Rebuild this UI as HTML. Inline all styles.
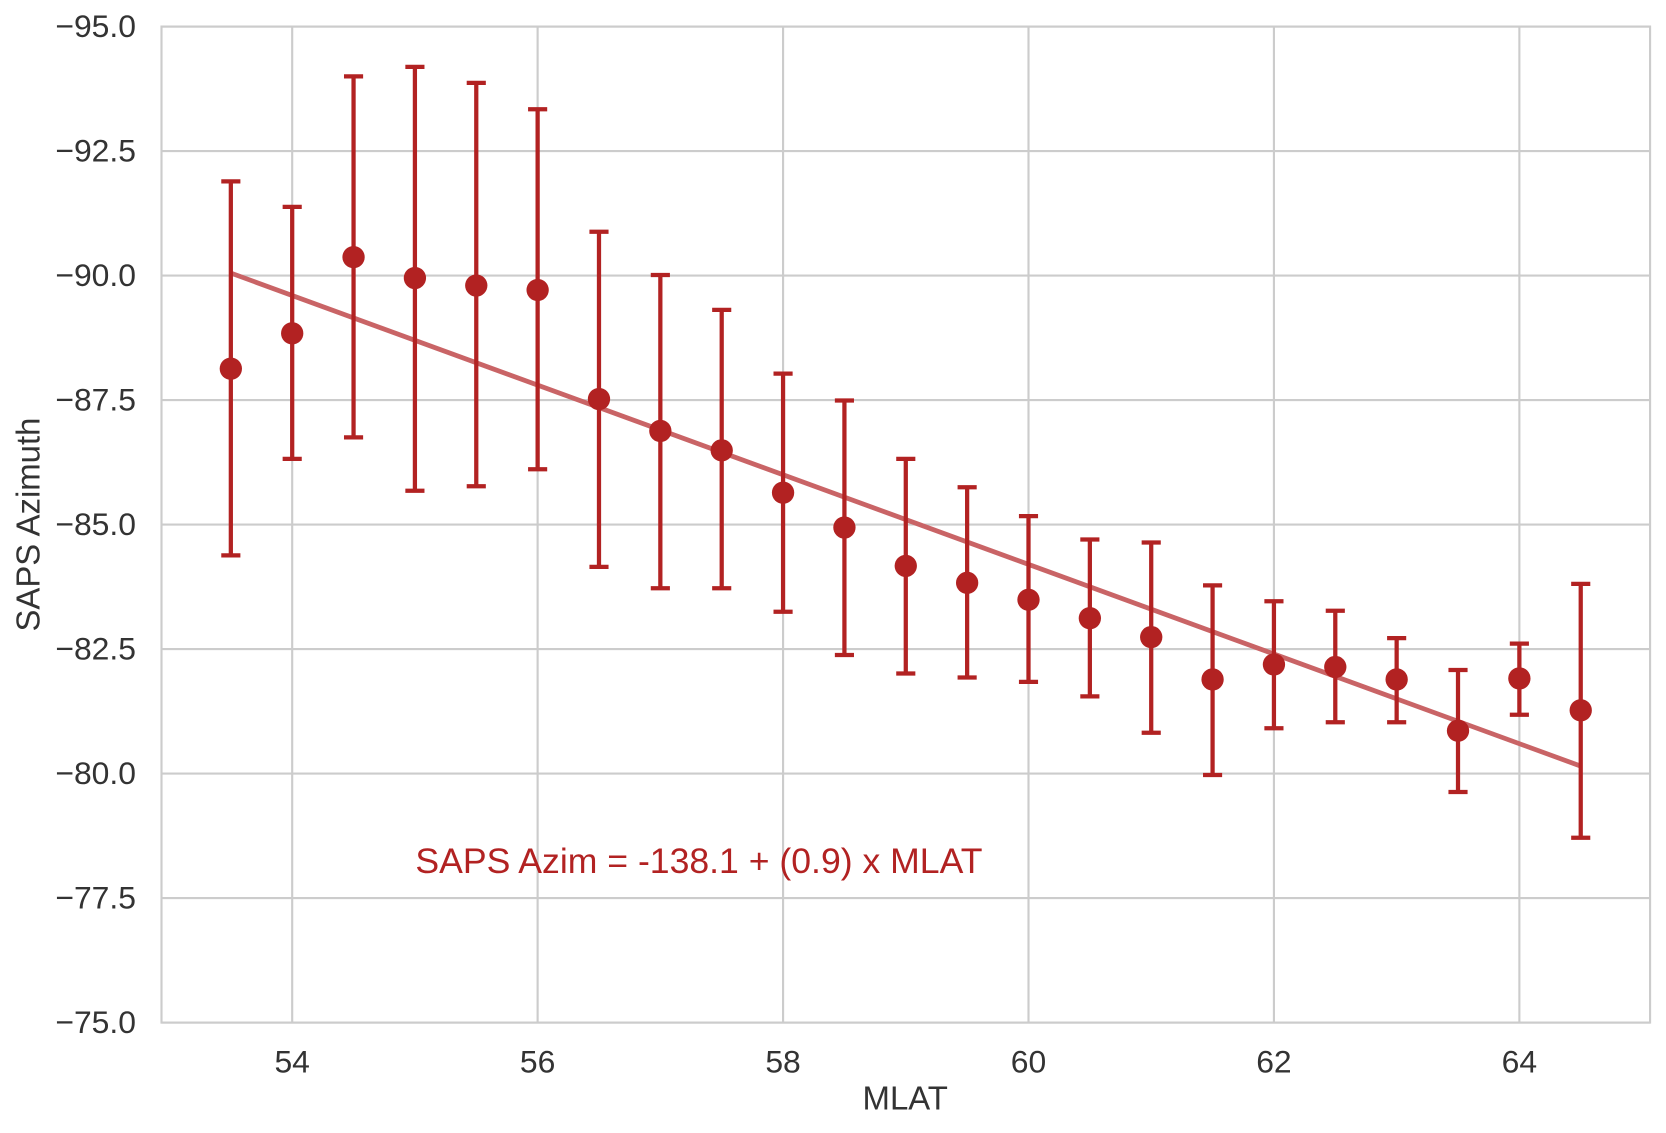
<!DOCTYPE html>
<html><head><meta charset="utf-8">
<style>
body{margin:0;background:#fff;}
svg{display:block;font-family:"Liberation Sans",sans-serif;}
</style></head>
<body>
<svg id="chart" width="1666" height="1133" viewBox="0 0 1568 1067" preserveAspectRatio="none">
<g id="grid"></g>
<rect x="152" y="25" width="1401" height="938" fill="none" stroke="#cccccc" stroke-width="2"/>
<g id="ticks"></g>
<g id="fit"></g>
<g id="marks"></g>
<text x="852" y="1045" text-anchor="middle" font-size="31" fill="#333">MLAT</text>
<text transform="translate(37,494) rotate(-90)" text-anchor="middle" font-size="31" fill="#333">SAPS Azimuth</text>
<text x="391" y="822" font-size="33.5" fill="#b22222">SAPS Azim = -138.1 + (0.9) x MLAT</text>
</svg>
<script>
const mlat = [53.5,54,54.5,55,55.5,56,56.5,57,57.5,58,58.5,59,59.5,60,60.5,61,61.5,62,62.5,63,63.5,64,64.5];
const meanAz = [-88.13,-88.84,-90.37,-89.95,-89.80,-89.71,-87.52,-86.88,-86.49,-85.64,-84.94,-84.17,-83.83,-83.49,-83.12,-82.74,-81.89,-82.19,-82.14,-81.89,-80.86,-81.91,-81.27];
const lowAz = [-91.89,-91.38,-94.0,-94.19,-93.87,-93.34,-90.88,-90.01,-89.31,-88.03,-87.49,-86.32,-85.75,-85.17,-84.70,-84.64,-83.78,-83.46,-83.27,-82.72,-82.08,-82.61,-83.81];
const highAz = [-84.38,-86.32,-86.75,-85.68,-85.77,-86.11,-84.15,-83.72,-83.72,-83.25,-82.38,-82.01,-81.93,-81.84,-81.55,-80.82,-79.97,-80.91,-81.03,-81.03,-79.63,-81.18,-78.71];
const xTicks = [54,56,58,60,62,64];
const yTicks = [-95,-92.5,-90,-87.5,-85,-82.5,-80,-77.5,-75];
const yTickLabels = ["−95.0","−92.5","−90.0","−87.5","−85.0","−82.5","−80.0","−77.5","−75.0"];
const fitIntercept = -138.2;
const fitSlope = 0.9;

const NS="http://www.w3.org/2000/svg";
const X0=152,X1=1553,Y0=25,Y1=963;
const xMin=52.935,xMax=65.065,yTop=-95,yBot=-75;
const sx=v=>X0+(v-xMin)/(xMax-xMin)*(X1-X0);
const sy=v=>Y0+(v-yTop)/(yBot-yTop)*(Y1-Y0);
function mk(tag,attrs,parent){const e=document.createElementNS(NS,tag);for(const k in attrs)e.setAttribute(k,attrs[k]);parent.appendChild(e);return e;}
const grid=document.getElementById('grid'),ticks=document.getElementById('ticks'),fit=document.getElementById('fit'),marks=document.getElementById('marks');
xTicks.forEach(t=>{
  const l=mk('line',{x1:sx(t),x2:sx(t),y1:Y0,y2:Y1,stroke:'#cccccc','stroke-width':2},grid);
  
  
  const tx=mk('text',{x:sx(t),y:Y1+47,'text-anchor':'middle','font-size':30,fill:'#333'},ticks);
  tx.textContent=t;
  
  
});
yTicks.forEach((t,i)=>{
  const l=mk('line',{x1:X0,x2:X1,y1:sy(t),y2:sy(t),stroke:'#cccccc','stroke-width':2},grid);
  
  
  const tx=mk('text',{x:X0-24,y:sy(t)+10,'text-anchor':'end','font-size':30,fill:'#333'},ticks);
  tx.textContent=yTickLabels[i];
  
  
});
const xa=mlat[0],xb=mlat[mlat.length-1];
const fl=mk('line',{x1:sx(xa),y1:sy(fitIntercept+fitSlope*xa),x2:sx(xb),y2:sy(fitIntercept+fitSlope*xb),stroke:'#c96466','stroke-width':4.5},fit);


mlat.forEach((m,i)=>{
  const g=mk('g',{},marks);
  
  
  const x=sx(m);
  mk('line',{x1:x,x2:x,y1:sy(lowAz[i]),y2:sy(highAz[i]),stroke:'#b22222','stroke-width':4},g);
  mk('line',{x1:x-9,x2:x+9,y1:sy(lowAz[i]),y2:sy(lowAz[i]),stroke:'#b22222','stroke-width':4},g);
  mk('line',{x1:x-9,x2:x+9,y1:sy(highAz[i]),y2:sy(highAz[i]),stroke:'#b22222','stroke-width':4},g);
  mk('circle',{cx:x,cy:sy(meanAz[i]),r:10.5,fill:'#b22222'},g);
});
</script>
</body></html>
